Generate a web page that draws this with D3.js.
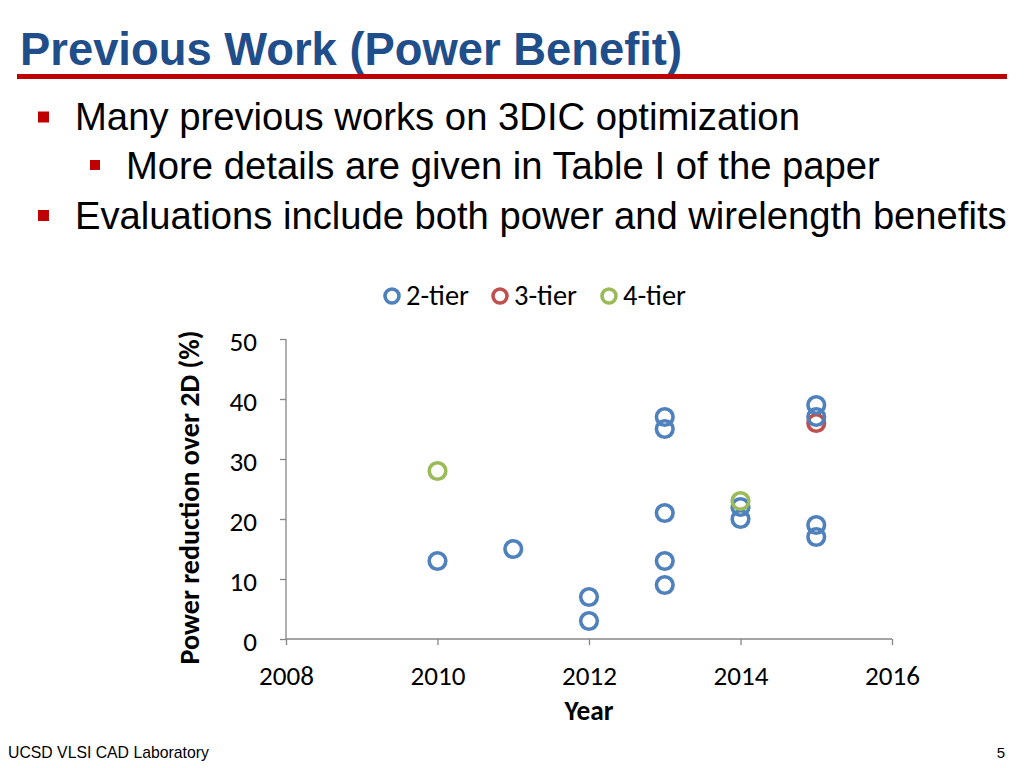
<!DOCTYPE html>
<html><head><meta charset="utf-8">
<script src="https://cdn.jsdelivr.net/npm/d3@7"></script>
<style>
html,body{margin:0;padding:0;background:#fff;}
svg{display:block;}
</style></head>
<body>
<svg id="c" width="1024" height="768"></svg>
<script>
const titleText = "Previous Work (Power Benefit)";
const bullets = [
  {text: "Many previous works on 3DIC optimization", level: 0},
  {text: "More details are given in Table I of the paper", level: 1},
  {text: "Evaluations include both power and wirelength benefits", level: 0}
];
const seriesNames = ["2-tier", "3-tier", "4-tier"];
const tier2Years = [2010, 2011, 2012, 2012, 2013, 2013, 2013, 2013, 2013, 2014, 2014, 2015, 2015, 2015, 2015];
const tier2Values = [13, 15, 7, 3, 37, 35, 21, 13, 9, 20, 22, 39, 37, 19, 17];
const tier3Years = [2015];
const tier3Values = [36];
const tier4Years = [2010, 2014];
const tier4Values = [28, 23];
const xTicks = [2008, 2010, 2012, 2014, 2016];
const yTicks = [0, 10, 20, 30, 40, 50];
const xLabel = "Year";
const yLabel = "Power reduction over 2D (%)";
const footerLeft = "UCSD VLSI CAD Laboratory";
const footerRight = "5";

const colors = ["#4F81BD", "#C0504D", "#9BBB59"];
const svg = d3.select("#c");
const ARIAL = "'Liberation Sans', Arial, sans-serif";
const CAL = "Carlito, Calibri, Lato, sans-serif";

function fit(sel, w) {
  const cur = parseFloat(sel.attr("font-size"));
  const len = sel.node().getComputedTextLength();
  sel.attr("font-size", (cur * w / len).toFixed(2));
  return cur * w / len;
}

// Title
const t = svg.append("text").attr("x", 20).attr("y", 65)
  .attr("font-family", ARIAL).attr("font-weight", "bold").attr("font-size", 44)
  .attr("fill", "#1F4E8A").text(titleText);
fit(t, 662);
svg.append("rect").attr("x", 17).attr("y", 74).attr("width", 990).attr("height", 5).attr("fill", "#C00000");

// Bullets
const bulletY = [130, 178.5, 228.5];
const bulletW = [725, 754, 932];
bullets.forEach((b, i) => {
  const bx = b.level === 0 ? 38 : 90;
  const tx = b.level === 0 ? 75 : 126;
  const sq = b.level === 0 ? 11 : 10;
  svg.append("rect").attr("x", bx).attr("y", bulletY[i] - 18.5).attr("width", sq).attr("height", sq).attr("fill", "#C00000");
  const tt = svg.append("text").attr("x", tx).attr("y", bulletY[i])
    .attr("font-family", ARIAL).attr("font-size", 37).attr("fill", "#000").text(b.text);
  fit(tt, bulletW[i]);
});

// measure tick font size so "2008" is ~55px wide
const probe = svg.append("text").attr("font-family", CAL).attr("font-size", 24).text("2008");
const tickFS = fit(probe, 55);
probe.remove();

// Chart
const x = d3.scaleLinear().domain([2008, 2016]).range([286, 892]);
const y = d3.scaleLinear().domain([0, 50]).range([639, 339]);
const axisColor = "#868686";

const gx = svg.append("g").attr("transform", `translate(0,${y(0)})`)
  .call(d3.axisBottom(x).tickValues(xTicks).tickFormat(d3.format("d")).tickSize(6).tickPadding(10));
const gy = svg.append("g").attr("transform", `translate(${x(2008)},0)`)
  .call(d3.axisLeft(y).tickValues(yTicks).tickSize(6).tickPadding(23));
[gx, gy].forEach(g => {
  g.select(".domain").attr("stroke", axisColor).attr("stroke-width", 1.3);
  g.selectAll(".tick line").attr("stroke", axisColor).attr("stroke-width", 1.3);
  g.selectAll(".tick text").attr("font-family", CAL).attr("font-size", tickFS).attr("fill", "#000");
});
gx.selectAll(".tick text").attr("y", 0).attr("dy", 0).attr("transform", "translate(0,46)");
gy.selectAll(".tick text").attr("dy", "0.42em");
gx.select(".domain").attr("d", `M${x(2008)},0H${x(2016)}`);
gy.select(".domain").attr("d", `M0,${y(50)}V${y(0)}`);

// axis titles
const xl = svg.append("text").attr("x", x(2012)).attr("y", 720).attr("text-anchor", "middle")
  .attr("font-family", CAL).attr("font-weight", "bold").attr("font-size", 24).text(xLabel);
fit(xl, 49);
const yl = svg.append("text").attr("transform", `translate(199,${(330+665)/2}) rotate(-90)`)
  .attr("text-anchor", "middle").attr("font-family", CAL).attr("font-weight", "bold")
  .attr("font-size", 24).text(yLabel);
fit(yl, 334);

// points (draw order: 3-tier, 2-tier, 4-tier)
const series = [
  {c: colors[1], xs: tier3Years, ys: tier3Values},
  {c: colors[0], xs: tier2Years, ys: tier2Values},
  {c: colors[2], xs: tier4Years, ys: tier4Values}
];
series.forEach(s => {
  svg.append("g").selectAll("circle").data(s.ys).join("circle")
    .attr("cx", (d, i) => x(s.xs[i])).attr("cy", d => y(d)).attr("r", 8.3)
    .attr("fill", "none").attr("stroke", s.c).attr("stroke-width", 3.6);
});

// legend
const legX = [392, 500, 609];
seriesNames.forEach((n, i) => {
  svg.append("circle").attr("cx", legX[i]).attr("cy", 296).attr("r", 7)
    .attr("fill", "none").attr("stroke", colors[i]).attr("stroke-width", 3.6);
  const lt = svg.append("text").attr("x", legX[i] + 14).attr("y", 305).attr("font-family", CAL)
    .attr("font-size", 24).attr("fill", "#000").text(n);
  fit(lt, 63);
});

// footer
const fl = svg.append("text").attr("x", 8).attr("y", 758).attr("font-family", ARIAL).attr("font-size", 15)
  .attr("fill", "#000").text(footerLeft);
fit(fl, 201);
svg.append("text").attr("x", 1005).attr("y", 758).attr("text-anchor", "end").attr("font-family", ARIAL).attr("font-size", 15)
  .attr("fill", "#000").text(footerRight);
</script>
</body></html>
